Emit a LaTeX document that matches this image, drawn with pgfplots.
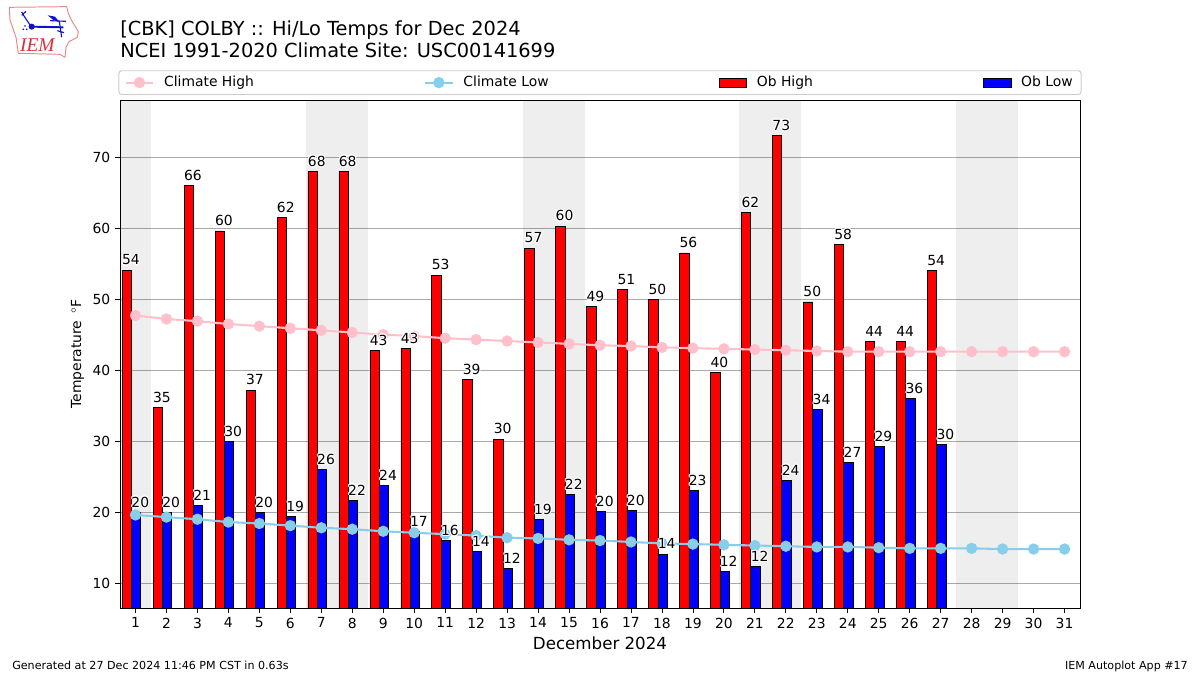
\documentclass[border=0pt]{standalone}
\usepackage{fontspec}
\setmainfont{DejaVu Sans}
\usepackage{pgfplots}
\usepackage{pgfplotstable}
\usepackage[copies]{contour}
\contourlength{0.75pt}
\pgfplotsset{compat=1.18}
\definecolor{clhigh}{HTML}{FFC0CB}
\definecolor{cllow}{HTML}{87CEEB}
\definecolor{gridc}{HTML}{AAAAAA}
\definecolor{legc}{HTML}{CCCCCC}
\definecolor{logored}{HTML}{D9303A}
\definecolor{logoline}{HTML}{E88A8A}
\definecolor{logoblue}{HTML}{1010D0}

% day, plotted high, printed high, plotted low, printed low
\pgfplotstableread{
d h hl l ll
1 54.1 54 20.0 20
2 34.8 35 20.0 20
3 66.0 66 21.0 21
4 59.6 60 30.0 30
5 37.2 37 20.0 20
6 61.5 62 19.4 19
7 68.0 68 26.0 26
8 68.0 68 21.7 22
9 42.8 43 23.8 24
10 43.1 43 17.3 17
11 53.4 53 16.0 16
12 38.7 39 14.5 14
13 30.3 30 12.1 12
14 57.2 57 19.0 19
15 60.3 60 22.5 22
16 49.0 49 20.1 20
17 51.4 51 20.2 20
18 50.0 50 14.1 14
19 56.5 56 23.1 23
20 39.7 40 11.6 12
21 62.2 62 12.3 12
22 73.1 73 24.5 24
23 49.6 50 34.5 34
24 57.7 58 27.0 27
25 44.0 44 29.3 29
26 44.0 44 36.0 36
27 54.0 54 29.5 30
}\obsdata

\pgfplotstableread{
d ch cl
1 47.7 19.6
2 47.2 19.3
3 46.9 19.0
4 46.5 18.6
5 46.2 18.4
6 45.9 18.1
7 45.6 17.8
8 45.3 17.6
9 45.0 17.3
10 44.8 17.1
11 44.5 16.9
12 44.3 16.7
13 44.1 16.4
14 43.9 16.3
15 43.7 16.1
16 43.5 16.0
17 43.4 15.8
18 43.2 15.6
19 43.1 15.5
20 43.0 15.4
21 42.9 15.3
22 42.8 15.2
23 42.7 15.1
24 42.6 15.1
25 42.6 15.0
26 42.6 14.9
27 42.6 14.9
28 42.6 14.9
29 42.6 14.8
30 42.6 14.8
31 42.6 14.8
}\climdata

\pgfplotsset{
  lineleg/.style={legend image code/.code={
    \draw[##1,mark=none,sharp corners] (0pt,0pt) -- (20pt,0pt);
    \fill[##1] (10pt,0pt) circle (3.3pt);}},
  barleg/.style={legend image code/.code={
    \draw[##1,sharp corners] (0pt,-3.4pt) rectangle (20pt,3.4pt);}},
  obsbar/.style={ybar,bar width=6.7pt,bar shift=0pt,draw=black,line width=0.5pt,forget plot},
  climline/.style={line width=1.5pt,mark=*,mark size=3.3pt,forget plot},
  barlabel/.style={draw=none,mark=none,forget plot,point meta=explicit,
    nodes near coords={\contour{white}{\pgfmathprintnumber{\pgfplotspointmeta}}},
    nodes near coords style={anchor=base west,inner sep=0pt,font=\fontsize{10}{12}\selectfont,text=black}},
  bandfill/.style={fill=black,fill opacity=0.067,draw=none,forget plot},
}

\begin{document}
\begin{tikzpicture}
\begin{axis}[
  at={(86.4pt,48.24pt)},anchor=south west,
  scale only axis,width=691.2pt,height=365.76pt,
  xmin=0.5,xmax=31.5,ymin=6.5,ymax=78.05,
  xtick={1,...,31},ytick={10,20,...,70},
  tick align=outside,tick pos=left,
  major tick length=3.5pt,
  tick style={black,line width=0.55pt},
  axis line style={black,line width=0.65pt},
  ymajorgrids,major grid style={gridc,line width=0.7pt},
  /pgf/number format/assume math mode=true,
  tick label style={font=\fontsize{10}{12}\selectfont},
  xlabel={December 2024},
  xlabel style={font=\fontsize{12}{14}\selectfont,at={(axis description cs:0.5,0)},anchor=base,yshift=-29.6pt},
  ylabel={Temperature\, $^\circ$F},
  ylabel style={font=\fontsize{10}{12}\selectfont,at={(axis description cs:0,0.5)},anchor=center,yshift=30.6pt},
  legend columns=4,
  legend cell align=left,
  legend style={at={(0.5,1)},anchor=south,yshift=3.6pt,draw=legc,line width=0.7pt,rounded corners=2pt,
    font=\fontsize{10}{12}\selectfont,inner xsep=4pt,inner ysep=2pt,
    /tikz/every odd column/.append style={column sep=5pt},
    /tikz/every even column/.append style={column sep=120.4pt}},
]
\addlegendimage{clhigh,line width=1.5pt,lineleg}
\addlegendentry{Climate High}
\addlegendimage{cllow,line width=1.5pt,lineleg}
\addlegendentry{Climate Low}
\addlegendimage{fill=red,draw=black,line width=0.5pt,barleg}
\addlegendentry{Ob High}
\addlegendimage{fill=blue,draw=black,line width=0.5pt,barleg}
\addlegendentry{Ob Low}

\addplot[bandfill] coordinates {(0.5,6.5) (1.5,6.5) (1.5,78.05) (0.5,78.05)};
\addplot[bandfill] coordinates {(6.5,6.5) (8.5,6.5) (8.5,78.05) (6.5,78.05)};
\addplot[bandfill] coordinates {(13.5,6.5) (15.5,6.5) (15.5,78.05) (13.5,78.05)};
\addplot[bandfill] coordinates {(20.5,6.5) (22.5,6.5) (22.5,78.05) (20.5,78.05)};
\addplot[bandfill] coordinates {(27.5,6.5) (29.5,6.5) (29.5,78.05) (27.5,78.05)};

\addplot[obsbar,fill=red] table[x expr=\thisrow{d}-0.28,y=h] {\obsdata};
\addplot[obsbar,fill=blue] table[x expr=\thisrow{d}+0.02,y=l] {\obsdata};

\addplot[clhigh,climline,mark options={fill=clhigh,draw=clhigh}] table[x=d,y=ch] {\climdata};
\addplot[cllow,climline,mark options={fill=cllow,draw=cllow}] table[x=d,y=cl] {\climdata};

\addplot[barlabel] table[x expr=\thisrow{d}-0.44,y expr=\thisrow{h}+0.71,meta=hl] {\obsdata};
\addplot[barlabel] table[x expr=\thisrow{d}-0.14,y expr=\thisrow{l}+0.71,meta=ll] {\obsdata};
\end{axis}

% title and footer
\node[anchor=base west,inner sep=0pt,font=\fontsize{13.95}{16}\selectfont] at (86.4pt,460.5pt) {[CBK] COLBY :: Hi/Lo Temps for Dec 2024};
\node[anchor=base west,inner sep=0pt,font=\fontsize{13.95}{16}\selectfont] at (86.4pt,444.9pt) {NCEI 1991-2020 Climate Site: USC00141699};
\node[anchor=base west,inner sep=0pt,font=\fontsize{8}{10}\selectfont] at (8.64pt,3.9pt) {Generated at 27 Dec 2024 11:46 PM CST in 0.63s};
\node[anchor=base east,inner sep=0pt,font=\fontsize{8}{10}\selectfont] at (855.4pt,3.9pt) {IEM Autoplot App \#17};

% IEM logo, rough outline
\begin{scope}[x=0.24pt,y=-0.24pt,yshift=486pt]
\draw[logoline,line width=0.7pt,line join=round] (28,22) -- (200,20) -- (205,40) -- (215,62) -- (235,95) -- (232,112) -- (207,125) -- (198,142) -- (195,172) -- (180,163) -- (55,160) -- (48,112) -- (30,60) -- cycle;
\draw[logoblue,line width=1.4pt] (95,80) -- (190,82);
\fill[logoblue] (95,80) circle (2.2pt);
\draw[logoblue,line width=0.8pt] (92,78) -- (72,48) (72,48) -- (65,36) (65,46) -- (78,34);
\fill[logoblue] (143,46) -- (165,50) -- (178,66) -- (160,60) -- cycle;
\draw[logoblue,line width=0.8pt] (150,62) -- (198,64) (178,64) -- (185,112) (172,92) -- (192,98);
\fill[logoblue] (70,88) circle (0.7pt) (80,88) circle (0.7pt) (75,78) circle (0.7pt);
\node[anchor=base,inner sep=0pt,text=logored,font=\fontspec{Liberation Serif}\itshape\fontsize{14}{16}\selectfont] at (112,154) {IEM};
\end{scope}
\path[use as bounding box] (0,0) rectangle (864pt,486pt);
\end{tikzpicture}
\end{document}
